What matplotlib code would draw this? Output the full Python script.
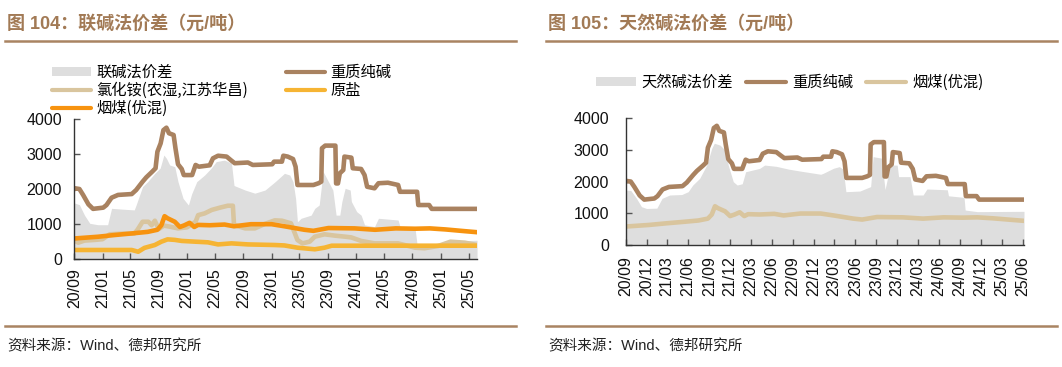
import pandas as pd
import matplotlib
matplotlib.use('Agg')
import matplotlib.pyplot as plt
import matplotlib.dates as mdates
from matplotlib.lines import Line2D
from matplotlib.patches import Patch

plt.rcParams['font.family'] = ['Liberation Sans', 'Noto Sans CJK SC', 'DejaVu Sans']

# 重质纯碱 (两图共用)
soda_dates = ['2020-09-01', '2020-09-04', '2020-09-23', '2020-10-09', '2020-11-01', '2020-11-21',
              '2021-01-04', '2021-01-18', '2021-02-09', '2021-03-09', '2021-05-07', '2021-05-26',
              '2021-06-23', '2021-07-09', '2021-08-04', '2021-08-18', '2021-08-26', '2021-09-09',
              '2021-09-21', '2021-10-04', '2021-10-15', '2021-11-04', '2021-11-12', '2021-11-23',
              '2021-12-09', '2021-12-18', '2022-01-23', '2022-02-07', '2022-02-21', '2022-04-09',
              '2022-04-23', '2022-05-15', '2022-06-21', '2022-07-09', '2022-07-26', '2022-09-21',
              '2022-10-12', '2023-01-04', '2023-01-12', '2023-02-15', '2023-02-21', '2023-03-12',
              '2023-04-04', '2023-04-15', '2023-04-23', '2023-07-01', '2023-07-23', '2023-08-04',
              '2023-08-07', '2023-08-21', '2023-10-04', '2023-10-07', '2023-10-15', '2023-10-23',
              '2023-11-07', '2023-11-12', '2023-12-12', '2023-12-18', '2024-01-23', '2024-02-07',
              '2024-02-18', '2024-03-21', '2024-04-07', '2024-05-18', '2024-07-01', '2024-07-09',
              '2024-09-21', '2024-09-26', '2024-11-12', '2024-11-23', '2025-06-07']
soda_vals = [2000, 2020, 2000, 1830, 1560, 1430,
             1465, 1540, 1750, 1830, 1855, 1970,
             2210, 2335, 2500, 2595, 3070, 3310,
             3690, 3760, 3600, 3550, 3170, 2710,
             2575, 2400, 2400, 2690, 2640, 2680,
             2880, 2955, 2930, 2830, 2740, 2760,
             2690, 2710, 2785, 2785, 2955, 2930,
             2860, 2640, 2115, 2115, 2165, 2210,
             3170, 3245, 3245, 2160, 2160, 2450,
             2545, 2930, 2900, 2595, 2575, 2400,
             2065, 2020, 2165, 2180, 2115, 1920,
             1920, 1540, 1540, 1430, 1430]

# 联碱法价差
lj_dates = ['2020-09-01', '2020-09-23', '2020-10-15', '2020-11-07', '2020-12-12', '2021-01-23',
            '2021-02-09', '2021-04-01', '2021-05-18', '2021-05-26', '2021-06-23', '2021-07-15',
            '2021-08-15', '2021-09-07', '2021-09-23', '2021-10-04', '2021-10-18', '2021-11-09',
            '2021-11-23', '2021-12-15', '2022-01-07', '2022-01-21', '2022-02-12', '2022-03-18',
            '2022-04-15', '2022-05-07', '2022-06-12', '2022-07-12', '2022-07-23', '2022-09-09',
            '2022-10-21', '2022-12-04', '2023-01-15', '2023-02-01', '2023-02-26', '2023-03-21',
            '2023-04-04', '2023-04-15', '2023-04-23', '2023-05-09', '2023-06-21', '2023-07-07',
            '2023-07-26', '2023-08-12', '2023-09-04', '2023-09-23', '2023-10-07', '2023-10-23',
            '2023-11-01', '2023-11-15', '2023-12-07', '2023-12-12', '2024-01-04', '2024-01-23',
            '2024-02-07', '2024-03-21', '2024-04-07', '2024-07-01', '2024-07-09', '2024-09-12',
            '2024-09-21', '2025-01-21', '2025-02-07', '2025-06-07']
lj_vals = [1600, 1550, 1250, 1015, 975, 975,
           1445, 1420, 1400, 1540, 2070, 2210,
           2450, 2600, 2975, 2880, 2690, 2640,
           2210, 1730, 1540, 1860, 2210, 2400,
           2595, 2785, 2830, 2740, 2100, 1970,
           1880, 1970, 2200, 2300, 2450, 2400,
           2210, 1730, 1060, 1160, 1250, 1445,
           1540, 2500, 2210, 1970, 1250, 1250,
           1640, 2020, 1970, 1640, 1350, 1250,
           970, 920, 1160, 1110, 920, 870,
           400, 390, 500, 530]

# 氯化铵(农湿,江苏华昌)
nh4cl_dates = ['2020-09-01', '2020-09-18', '2020-10-15', '2020-12-01', '2021-01-01', '2021-02-01',
               '2021-04-01', '2021-05-18', '2021-06-01', '2021-06-23', '2021-07-18', '2021-08-01',
               '2021-08-15', '2021-09-01', '2021-09-23', '2021-10-18', '2021-11-23', '2022-01-01',
               '2022-02-07', '2022-02-18', '2022-03-18', '2022-04-18', '2022-05-26', '2022-06-26',
               '2022-07-18', '2022-07-23', '2022-09-09', '2022-10-21', '2022-12-04', '2023-01-15',
               '2023-02-15', '2023-03-26', '2023-04-09', '2023-04-23', '2023-05-15', '2023-06-15',
               '2023-07-07', '2023-08-18', '2023-10-04', '2023-11-15', '2023-12-12', '2024-01-23',
               '2024-03-21', '2024-07-01', '2024-09-12', '2024-10-23', '2024-12-21', '2025-02-12',
               '2025-04-15', '2025-06-07']
nh4cl_vals = [520, 460, 520, 540, 560, 700,
              720, 720, 830, 1060, 1060, 960,
              1090, 850, 950, 920, 870, 900,
              1060, 1250, 1300, 1400, 1470, 1520,
              1520, 970, 870, 870, 1000, 1100,
              1090, 1015, 775, 536, 440, 490,
              632, 700, 660, 632, 610, 510,
              440, 440, 316, 300, 365, 488,
              460, 393]

# 原盐
salt_dates = ['2020-09-01', '2020-12-12', '2021-05-07', '2021-06-04', '2021-07-01', '2021-08-15',
              '2021-09-12', '2021-10-09', '2021-11-09', '2021-12-09', '2022-02-07', '2022-04-01',
              '2022-05-15', '2022-07-12', '2022-09-21', '2023-01-15', '2023-02-26', '2023-04-23',
              '2023-07-07', '2023-08-18', '2023-09-18', '2025-06-07']
salt_vals = [250, 250, 250, 200, 310, 393,
             488, 555, 540, 510, 488, 470,
             410, 440, 410, 393, 380, 316,
             270, 316, 373, 373]

# 烟煤(优混) (两图共用)
coal_dates = ['2020-09-01', '2020-12-12', '2021-02-23', '2021-05-07', '2021-07-15', '2021-08-26',
              '2021-09-12', '2021-09-26', '2021-10-09', '2021-11-09', '2021-12-01', '2021-12-21',
              '2022-01-12', '2022-02-01', '2022-02-18', '2022-04-09', '2022-06-12', '2022-07-23',
              '2022-10-04', '2023-01-01', '2023-02-26', '2023-05-23', '2023-07-01', '2023-09-04',
              '2023-12-26', '2024-03-23', '2024-06-21', '2024-09-12', '2024-11-15', '2025-01-21',
              '2025-04-15', '2025-06-07']
coal_vals = [580, 630, 680, 725, 770, 830,
             960, 1220, 1160, 1060, 910, 960,
             1030, 910, 970, 960, 980, 930,
             990, 990, 930, 830, 800, 880,
             870, 830, 870, 860, 870, 840,
             790, 760]

# 天然碱法价差
tr_dates = ['2020-09-01', '2020-09-23', '2020-10-18', '2020-11-09', '2020-12-01', '2021-01-15',
            '2021-02-07', '2021-03-12', '2021-05-04', '2021-06-01', '2021-06-21', '2021-07-21',
            '2021-08-21', '2021-09-12', '2021-09-23', '2021-10-18', '2021-11-09', '2021-11-23',
            '2021-12-15', '2022-01-01', '2022-01-23', '2022-02-07', '2022-04-09', '2022-05-01',
            '2022-06-21', '2022-08-15', '2022-10-04', '2023-01-01', '2023-01-12', '2023-02-26',
            '2023-03-23', '2023-04-09', '2023-04-21', '2023-06-21', '2023-08-07', '2023-08-18',
            '2023-09-23', '2023-10-09', '2023-11-01', '2023-12-01', '2023-12-07', '2024-01-26',
            '2024-02-09', '2024-03-23', '2024-04-09', '2024-07-07', '2024-07-12', '2024-09-18',
            '2024-09-23', '2024-11-15', '2025-06-07']
tr_vals = [1730, 1720, 1470, 1206, 1150, 1160,
           1470, 1575, 1590, 1680, 1890, 2100,
           2520, 3050, 3210, 3150, 2995, 2520,
           1995, 1890, 1930, 2310, 2415, 2520,
           2480, 2390, 2330, 2230, 2260, 2420,
           2470, 2390, 1680, 1700, 1840, 2785,
           2740, 1750, 2520, 2520, 2155, 2155,
           1575, 1575, 1765, 1740, 1550, 1500,
           1100, 1050, 1060]

W, H = 1062, 367
c_title = '#A27A55'
c_rule = '#A98462'
c_soda = '#A98260'
c_tan = '#D9C59E'
c_salt = '#F6B433'
c_coal = '#F7930F'
c_grey = '#DEDEDE'
cjk = ['Noto Sans CJK SC', 'DejaVu Sans']
LW = 3.3

fig = plt.figure(figsize=(W / 100, H / 100), dpi=100)


def fx(px):
    return px / W


def fy(py):
    return 1 - py / H


def style_axes(ax, ticks, xmax, ypad, xpad):
    ax.set_ylim(0, 4000)
    ax.set_yticks([0, 1000, 2000, 3000, 4000])
    ax.set_xlim(pd.Timestamp('2020-09-01'), pd.Timestamp(xmax))
    ax.set_xticks(ticks)
    ax.xaxis.set_major_formatter(mdates.DateFormatter('%y/%m'))
    for s in ['top', 'right']:
        ax.spines[s].set_visible(False)
    for s in ['left', 'bottom']:
        ax.spines[s].set_color('#333333')
        ax.spines[s].set_linewidth(1.0)
    ax.tick_params(axis='both', direction='in', length=4, width=1, color='#555555',
                   labelsize=11.5, labelcolor='#111111')
    ax.tick_params(axis='y', pad=ypad)
    ax.tick_params(axis='x', pad=xpad, labelrotation=90)


# ---------- 左图 ----------
ax1 = fig.add_axes([fx(74.3), fy(258.7), fx(477.3) - fx(74.3), fy(119.3) - fy(258.7)])
ax1.fill_between(pd.to_datetime(lj_dates), 0, lj_vals, color=c_grey, lw=0)
ax1.plot(pd.to_datetime(soda_dates), soda_vals, color=c_soda, lw=LW)
ax1.plot(pd.to_datetime(nh4cl_dates), nh4cl_vals, color=c_tan, lw=LW)
ax1.plot(pd.to_datetime(salt_dates), salt_vals, color=c_salt, lw=LW)
ax1.plot(pd.to_datetime(coal_dates), coal_vals, color=c_coal, lw=LW)
style_axes(ax1, pd.date_range('2020-09-01', '2025-05-01', freq='4MS'), '2025-06-08', 9, 7)

h1 = [Patch(facecolor=c_grey, edgecolor='none'),
      Line2D([], [], color=c_tan, lw=3, solid_capstyle='round'),
      Line2D([], [], color=c_coal, lw=3, solid_capstyle='round'),
      Line2D([], [], color=c_soda, lw=3, solid_capstyle='round'),
      Line2D([], [], color=c_salt, lw=3, solid_capstyle='round')]
l1 = ['联碱法价差', '氯化铵(农湿,江苏华昌)', '烟煤(优混)', '重质纯碱', '原盐']
fig.legend(h1, l1, loc='upper left', bbox_to_anchor=(fx(52), fy(64)), ncol=2, frameon=False,
           prop={'family': cjk, 'size': 11}, handlelength=2.55, handleheight=0.45,
           handletextpad=0.35, columnspacing=2.5, labelspacing=0.05,
           borderpad=0, borderaxespad=0)

# ---------- 右图 ----------
ax2 = fig.add_axes([fx(625.7), fy(244.9), fx(1024) - fx(625.7), fy(118.2) - fy(244.9)])
ax2.fill_between(pd.to_datetime(tr_dates), 0, tr_vals, color=c_grey, lw=0)
ax2.plot(pd.to_datetime(soda_dates), soda_vals, color=c_soda, lw=LW)
ax2.plot(pd.to_datetime(coal_dates), coal_vals, color=c_tan, lw=LW)
style_axes(ax2, pd.date_range('2020-09-01', '2025-06-01', freq='3MS'), '2025-06-07', 12, 8)

h2 = [Patch(facecolor=c_grey, edgecolor='none'),
      Line2D([], [], color=c_soda, lw=3, solid_capstyle='round'),
      Line2D([], [], color=c_tan, lw=3, solid_capstyle='round')]
l2 = ['天然碱法价差', '重质纯碱', '烟煤(优混)']
fig.legend(h2, l2, loc='upper left', bbox_to_anchor=(fx(596), fy(74)), ncol=3, frameon=False,
           prop={'family': cjk, 'size': 11}, handlelength=2.6, handleheight=0.45,
           handletextpad=0.4, columnspacing=0.85, borderpad=0, borderaxespad=0)

# ---------- 标题、分隔线、来源 ----------
for x0, x1, num, name in [(5, 516, '104', '联碱法价差'), (546, 1057, '105', '天然碱法价差')]:
    fig.text(fx(x0 + 2), fy(23.5), f'图 {num}：{name}（元/吨）', color=c_title, fontsize=13,
             fontweight='bold', va='center', ha='left')
    fig.add_artist(Line2D([fx(x0), fx(x1)], [fy(41), fy(41)], color=c_rule, lw=1.8))
    fig.add_artist(Line2D([fx(x0), fx(x1)], [fy(326), fy(326)], color=c_rule, lw=1.8))
    fig.text(fx(x0 + 2), fy(346), '资料来源：Wind、德邦研究所', color='#222222', fontsize=10.5,
             va='center', ha='left')

fig.savefig('out.png', dpi=100)
